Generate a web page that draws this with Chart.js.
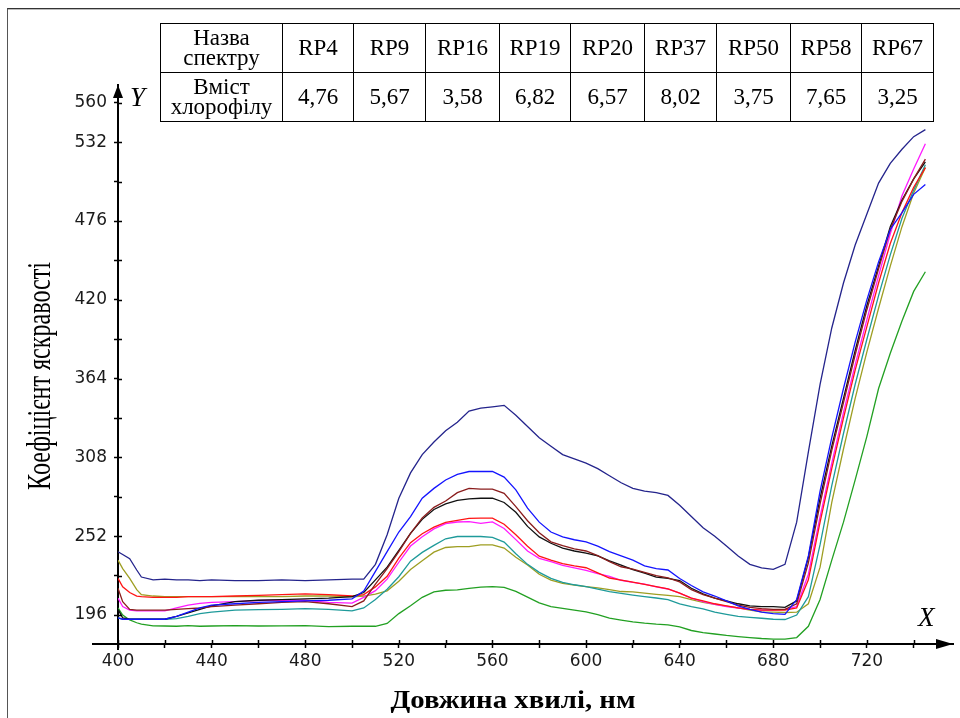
<!DOCTYPE html>
<html lang="uk">
<head>
<meta charset="utf-8">
<script src="https://cdn.jsdelivr.net/npm/chart.js@4.4.1/dist/chart.umd.min.js"></script>
<style>
  html, body { margin: 0; padding: 0; background: #fff; }
  #wrap { position: relative; width: 960px; height: 718px; overflow: hidden; }
  #frame { position: absolute; left: 7px; top: 8px; width: 960px; height: 720px;
           border-left: 1px solid #555; border-top: 1px solid #333;
           box-shadow: inset 0 1px 0 #bbb; }
  #chart { position: absolute; left: 0; top: 0; }
  #info { position: absolute; left: 160px; top: 23px; border-collapse: collapse;
          table-layout: fixed; font-family: "Liberation Serif", "Times New Roman", serif;
          font-size: 23px; color: #000; }
  #info td { border: 1.5px solid #000; text-align: center; vertical-align: middle;
             padding: 0; height: 48px; line-height: 20px; }
</style>
</head>
<body>
<div id="wrap">
  <div id="frame"></div>
  <canvas id="chart" width="960" height="718"></canvas>
  <table id="info"></table>
</div>
<script>
// wavelengths, nm
const WAVELENGTHS = [400, 402, 405, 408, 410, 415, 420, 425, 430, 435, 440,
    450, 460, 470, 480, 490, 500,
    505, 510, 515, 520, 525, 530, 535, 540, 545, 550, 555, 560, 565, 570, 575,
    580, 585, 590, 595, 600, 605, 610, 615, 620, 625, 630, 635, 640, 645, 650,
    655, 660, 665, 670, 675, 680, 685, 690, 695, 700, 705, 710, 715, 720, 725,
    730, 735, 740, 745];

const SAMPLE_NAMES = ["RP4", "RP9", "RP16", "RP19", "RP20", "RP37", "RP50", "RP58", "RP67"];
const CHLOROPHYLL = ["4,76", "5,67", "3,58", "6,82", "6,57", "8,02", "3,75", "7,65", "3,25"];

const rp67 = [241, 239, 236, 228, 223, 221, 221.5, 221, 221, 220.5, 221,
    220.5, 220.5, 221, 220.5, 221, 221.5,
    221.5, 232, 253, 279, 297, 310, 319, 327, 333, 341, 343, 344, 345, 338, 330,
    322, 316, 310, 307, 304, 300, 295, 290, 286, 284, 283, 281, 274, 266, 258,
    252, 245, 238, 232, 229.5, 228.5, 232, 262, 312, 360, 400, 432, 459, 481, 503,
    517, 527, 536, 541];
const rp16 = [194, 193, 193, 193, 193, 193, 193, 195, 198, 201, 203,
    204, 205, 205.5, 206, 206.5, 207.5,
    213, 227, 241, 255, 266, 279, 286, 292, 296, 298, 298, 298, 294, 285, 272,
    262, 255, 251.5, 249.5, 248, 245, 241, 238, 235, 231, 229, 228, 222, 217, 212.5,
    209.5, 206, 202.5, 200, 198, 197, 196.5, 207, 238, 284, 322, 357, 390, 420, 447,
    470, 482, 495, 502];
const rp50 = [215, 205.5, 200, 199.5, 199.5, 199.5, 199.5, 200, 200.5, 201, 202,
    203, 204, 205, 205.5, 204, 202,
    206, 218, 229, 241, 254, 265, 272.5, 277, 283, 286, 285.5, 285.5, 282.5, 273, 263,
    254.5, 248, 245.3, 243, 241.5, 238.2, 234, 230.3, 228.6, 226.3, 224, 222.4, 219.5, 214, 210.5,
    208, 205.5, 203, 201.5, 200.5, 200, 200, 204, 233, 275, 313, 347, 381, 413, 442,
    470, 490, 506, 520];
const rp4 = [200, 194, 193, 193, 193, 193, 193, 195, 197.5, 200, 202.5,
    205.5, 206.5, 207, 207.5, 208, 209,
    212, 221, 230, 242, 254, 264, 271, 275, 277.5, 278.5, 279, 279, 276, 269, 259,
    251.5, 247, 243.5, 241.5, 240, 238, 234.5, 231.5, 228.2, 225.7, 223, 222, 220.5, 215, 211,
    208, 206, 204, 202.5, 202, 202, 201.5, 206, 237, 279, 316, 350, 384, 416, 444,
    472, 491, 506, 518];
const rp9 = [222, 216, 212, 209.5, 209, 208.5, 208.5, 208.5, 209, 209, 209,
    209.5, 210, 210.5, 211, 210.5, 209.5,
    210.5, 216, 223.5, 236.5, 247.4, 253.8, 258.5, 261.9, 263.3, 264.7, 264.8, 264.8, 260.5, 253, 244.9,
    237.8, 235, 232.6, 231, 229.6, 226, 222.3, 220.8, 219.3, 217.7, 216.2, 214.5, 211.5, 208, 206,
    204, 202.5, 201, 200, 199.5, 199.5, 199.5, 201, 221, 262, 300, 336, 370, 401, 432,
    460, 482, 500, 514];
const rp20 = [208, 202, 199.5, 199, 199, 199, 199, 201, 203, 204.3, 205,
    205.5, 206.3, 206.5, 206.5, 205, 204.5,
    208.5, 213.3, 221.5, 233.5, 245, 251.6, 257.2, 260.9, 262.1, 262.4, 261.2, 262.2, 257.5, 249.6, 241.5,
    236.3, 233.9, 231.3, 229.5, 227.7, 225.4, 223.4, 220.7, 219.2, 218, 216, 214.5, 211.5, 208, 205.5,
    203.5, 202, 201, 200, 199.5, 199.5, 200, 202, 225, 266, 304, 340, 374, 406, 437,
    467, 494, 513, 531];
const rp19 = [194, 193, 193, 193, 193, 193, 193, 193.5, 195, 197, 198,
    199.5, 199.8, 200, 200.5, 200, 199,
    201, 207, 214.3, 223.2, 234.3, 240.5, 245.5, 250.2, 251.8, 251.8, 251.8, 251.2, 247.8, 239.6, 232,
    226.3, 222, 219.2, 217.5, 216.2, 214.4, 212.7, 211.4, 210.2, 209.1, 208.1, 206.9, 204, 202, 200.3,
    198, 196.5, 195, 194.3, 193.7, 193, 192.8, 196, 209, 246, 288, 325, 360, 392, 423,
    452, 478, 498, 516];
const rp58 = [235, 229, 222, 214, 210.5, 209.5, 209, 209, 209, 209, 209,
    209, 209, 209, 209.5, 209.5, 209,
    209.5, 210.8, 213.2, 220, 228.4, 234.5, 240.7, 244, 244.6, 244.6, 245.9, 245.9, 243.6, 237, 231.5,
    225, 220.8, 218.5, 217.2, 216.2, 215.3, 214, 212.7, 212.4, 211.5, 210.7, 210, 209, 207, 205,
    203.5, 202.3, 201, 199.5, 198.3, 198, 197.8, 198, 204, 230, 276, 314, 350, 383, 414,
    444, 472, 496, 514];
const rp37 = [201, 196, 192.5, 190.5, 189.5, 188.3, 188.2, 188, 188.5, 188, 188.2,
    188.5, 188.2, 188.3, 188.4, 187.8, 188,
    188, 188, 190, 197, 202.6, 208.6, 212.5, 213.6, 213.9, 215, 215.8, 216.2, 215.6, 212.8, 208.7,
    204.6, 202, 200.7, 199.4, 198.2, 196.2, 193.8, 192.4, 191.1, 190.2, 189.5, 189, 187.5, 185, 183.5,
    182.5, 181.5, 180.7, 180, 179.3, 178.8, 178.8, 180, 188, 207, 235, 262, 292, 323, 357,
    382, 405, 426, 440];

const X_TICKS = [400, 420, 440, 460, 480, 500, 520, 540, 560, 580, 600, 620, 640, 660, 680, 700, 720, 740];
const X_LABELS = [400, 440, 480, 520, 560, 600, 640, 680, 720];
const Y_TICKS = [196, 224, 252, 280, 308, 336, 364, 392, 420, 448, 476, 504, 532, 560];
const Y_LABELS = [196, 252, 308, 364, 420, 476, 532, 560];

// table above the plot
const info = document.getElementById('info');
const widths = [122, 71, 72, 74, 71, 74, 72, 74, 71, 72];
let html = '<colgroup>' + widths.map(w => '<col style="width:' + w + 'px">').join('') + '</colgroup>';
html += '<tr><td>Назва<br>спектру</td>' + SAMPLE_NAMES.map(n => '<td>' + n + '</td>').join('') + '</tr>';
html += '<tr><td>Вміст<br>хлорофілу</td>' + CHLOROPHYLL.map(v => '<td>' + v + '</td>').join('') + '</tr>';
info.innerHTML = html;

const series = [
    { label: 'RP67', data: rp67, color: '#24248c' },
    { label: 'RP16', data: rp16, color: '#1414ff' },
    { label: 'RP50', data: rp50, color: '#8a1c1c' },
    { label: 'RP4', data: rp4, color: '#111111' },
    { label: 'RP9', data: rp9, color: '#ff1414' },
    { label: 'RP20', data: rp20, color: '#ff1aff' },
    { label: 'RP19', data: rp19, color: '#1e9a9a' },
    { label: 'RP58', data: rp58, color: '#9e9e22' },
    { label: 'RP37', data: rp37, color: '#22a022' },
];

const tickFont = { family: 'DejaVu Sans', size: 17 };

const axisDecor = {
    id: 'axisDecor',
    afterDraw(chart) {
        const ctx = chart.ctx;
        const a = chart.chartArea;
        const xs = chart.scales.x, ys = chart.scales.y;
        const x0 = xs.getPixelForValue(400);
        const y0 = a.bottom;
        ctx.save();
        ctx.strokeStyle = '#000';
        ctx.fillStyle = '#000';
        ctx.lineWidth = 2;
        ctx.beginPath();
        ctx.moveTo(92, y0); ctx.lineTo(x0, y0);
        ctx.moveTo(x0, y0); ctx.lineTo(x0, y0 + 6);
        ctx.stroke();
        // inner halves of tick marks
        ctx.lineWidth = 1.5;
        ctx.beginPath();
        X_TICKS.forEach(v => {
            const px = Math.round(xs.getPixelForValue(v)) + 0.5;
            ctx.moveTo(px, y0); ctx.lineTo(px, y0 - 4);
        });
        Y_TICKS.forEach(v => {
            const py = Math.round(ys.getPixelForValue(v)) + 0.5;
            ctx.moveTo(x0, py); ctx.lineTo(x0 + 4, py);
        });
        ctx.stroke();
        // arrows
        ctx.beginPath();
        ctx.moveTo(x0, a.top); ctx.lineTo(x0 - 5, a.top + 13); ctx.lineTo(x0 + 5, a.top + 13);
        ctx.closePath(); ctx.fill();
        ctx.beginPath();
        ctx.moveTo(a.right, y0); ctx.lineTo(a.right - 17, y0 - 5); ctx.lineTo(a.right - 17, y0 + 5);
        ctx.closePath(); ctx.fill();
        // axis letters
        ctx.font = 'italic 27px "Liberation Serif"';
        ctx.textAlign = 'left';
        ctx.textBaseline = 'alphabetic';
        ctx.fillText('Y', 130, 106);
        ctx.fillText('X', 918, 626);
        // axis titles
        ctx.font = 'bold 25px "Liberation Serif"';
        let t = 'Довжина хвилі, нм';
        let sx = 245 / ctx.measureText(t).width;
        ctx.save();
        ctx.translate(513, 708);
        ctx.scale(sx, 1);
        ctx.textAlign = 'center';
        ctx.fillText(t, 0, 0);
        ctx.restore();
        ctx.font = '33px "Liberation Serif"';
        t = 'Коефіцієнт яскравості';
        sx = 228 / ctx.measureText(t).width;
        ctx.save();
        ctx.translate(50, 376);
        ctx.rotate(-Math.PI / 2);
        ctx.scale(sx, 1);
        ctx.textAlign = 'center';
        ctx.fillText(t, 0, 0);
        ctx.restore();
        ctx.restore();
    }
};

const chart = new Chart(document.getElementById('chart'), {
    type: 'line',
    data: {
        datasets: series.map(s => ({
            label: s.label,
            data: WAVELENGTHS.map((w, i) => ({ x: w, y: s.data[i] })),
            borderColor: s.color,
            backgroundColor: s.color,
            borderWidth: 1.3,
            pointRadius: 0,
            tension: 0,
            fill: false,
        }))
    },
    options: {
        responsive: false,
        animation: false,
        devicePixelRatio: 1,
        layout: { padding: { left: 0, right: 7, top: 85, bottom: 0 } },
        plugins: {
            legend: { display: false },
            tooltip: { enabled: false },
        },
        scales: {
            x: {
                type: 'linear',
                min: 400,
                max: 756.8,
                afterFit: (scale) => { scale.height = 74; },
                afterBuildTicks: (scale) => { scale.ticks = X_TICKS.map(v => ({ value: v })); },
                ticks: {
                    autoSkip: false,
                    maxRotation: 0,
                    padding: 3,
                    color: '#1a1a1a',
                    font: tickFont,
                    callback: (v) => X_LABELS.includes(v) ? String(v) : '',
                },
                grid: { drawOnChartArea: false, drawTicks: true, tickLength: 4, tickWidth: 1.5, tickColor: '#000' },
                border: { color: '#000', width: 2 },
            },
            y: {
                min: 175.4,
                max: 572.7,
                afterFit: (scale) => { scale.width = 118; },
                afterBuildTicks: (scale) => { scale.ticks = Y_TICKS.map(v => ({ value: v })); },
                ticks: {
                    autoSkip: false,
                    padding: 7,
                    color: '#1a1a1a',
                    font: tickFont,
                    callback: (v) => Y_LABELS.includes(v) ? String(v) : '',
                },
                grid: { drawOnChartArea: false, drawTicks: true, tickLength: 4, tickWidth: 1.5, tickColor: '#000' },
                border: { color: '#000', width: 2 },
            }
        }
    },
    plugins: [axisDecor]
});
</script>
</body>
</html>
